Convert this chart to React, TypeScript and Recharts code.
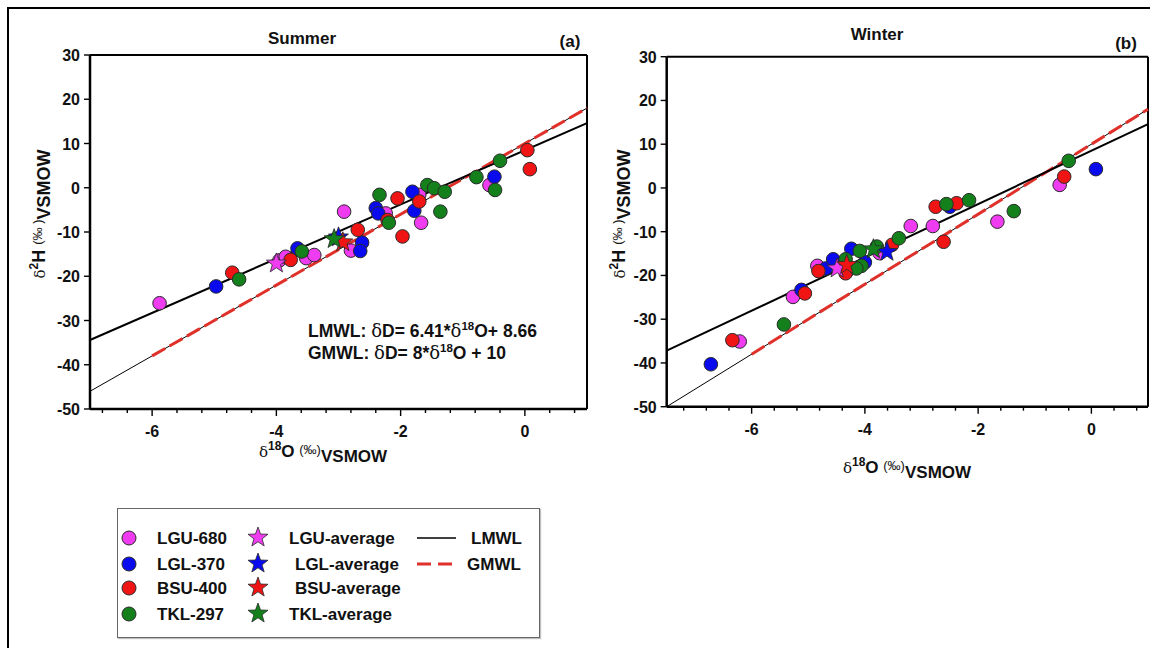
import React from "react";
import { ScatterChart, Scatter, XAxis, YAxis, ReferenceLine } from "recharts";

type Pt = { x: number; y: number };

// ---- Summer (a) ----
const summerLGU: Pt[] = [
  { x: -5.88, y: -26.1 }, { x: -3.95, y: -16.4 }, { x: -3.85, y: -15.6 }, { x: -3.52, y: -15.9 },
  { x: -3.39, y: -15.2 }, { x: -2.91, y: -5.4 }, { x: -2.8, y: -14.2 }, { x: -2.24, y: -5.8 },
  { x: -1.7, y: -1.6 }, { x: -1.67, y: -7.9 }, { x: -0.57, y: 0.6 }
];
const summerLGL: Pt[] = [
  { x: -4.97, y: -22.3 }, { x: -3.66, y: -13.7 }, { x: -2.62, y: -12.4 }, { x: -2.65, y: -14.3 },
  { x: -2.4, y: -4.6 }, { x: -2.36, y: -5.8 }, { x: -1.81, y: -0.9 }, { x: -1.78, y: -5.2 },
  { x: -0.49, y: 2.5 }
];
const summerBSU: Pt[] = [
  { x: -4.71, y: -19.2 }, { x: -3.77, y: -16.3 }, { x: -2.69, y: -9.5 }, { x: -2.21, y: -7.3 },
  { x: -2.05, y: -2.4 }, { x: -1.97, y: -11.0 }, { x: -1.7, y: -3.1 }, { x: 0.04, y: 8.5 },
  { x: 0.08, y: 4.2 }
];
const summerTKL: Pt[] = [
  { x: -4.6, y: -20.7 }, { x: -3.59, y: -14.4 }, { x: -2.34, y: -1.6 }, { x: -2.19, y: -7.9 },
  { x: -1.57, y: 0.6 }, { x: -1.46, y: -0.1 }, { x: -1.29, y: -0.9 }, { x: -1.36, y: -5.4 },
  { x: -0.78, y: 2.4 }, { x: -0.48, y: -0.5 }, { x: -0.4, y: 6.1 }
];
const summerAvgLGU: Pt[] = [{ x: -4.0, y: -17.1 }];
const summerAvgLGL: Pt[] = [{ x: -3.0, y: -11.2 }];
const summerAvgBSU: Pt[] = [{ x: -2.93, y: -12.3 }];
const summerAvgTKL: Pt[] = [{ x: -3.07, y: -11.6 }];
const summerLMWL: Pt[] = [{ x: -7, y: -34.4 }, { x: 1, y: 14.6 }];
const summerGMWL: Pt[] = [{ x: -7, y: -46 }, { x: 1, y: 18 }];
const summerGMWLDash: Pt[] = [{ x: -6, y: -38 }, { x: 1, y: 18 }];

// ---- Winter (b) ----
const winterLGU: Pt[] = [
  { x: -6.21, y: -35.1 }, { x: -5.27, y: -24.9 }, { x: -4.84, y: -17.8 }, { x: -4.4, y: -17.4 },
  { x: -3.74, y: -14.9 }, { x: -3.19, y: -8.7 }, { x: -2.8, y: -8.7 }, { x: -1.66, y: -7.7 },
  { x: -0.56, y: 0.7 }
];
const winterLGL: Pt[] = [
  { x: -6.72, y: -40.3 }, { x: -5.12, y: -23.3 }, { x: -4.69, y: -18.4 }, { x: -4.56, y: -16.3 },
  { x: -4.24, y: -13.9 }, { x: -4.0, y: -17.0 }, { x: -2.5, y: -4.3 }, { x: 0.08, y: 4.3 }
];
const winterBSU: Pt[] = [
  { x: -6.34, y: -34.8 }, { x: -5.06, y: -24.1 }, { x: -4.82, y: -19.0 }, { x: -4.3, y: -18.8 },
  { x: -4.34, y: -19.5 }, { x: -3.52, y: -13.0 }, { x: -2.75, y: -4.3 }, { x: -2.61, y: -12.3 },
  { x: -2.38, y: -3.5 }, { x: -0.48, y: 2.6 }
];
const winterTKL: Pt[] = [
  { x: -5.43, y: -31.2 }, { x: -4.34, y: -16.3 }, { x: -4.09, y: -14.4 }, { x: -4.06, y: -17.8 },
  { x: -4.15, y: -18.4 }, { x: -3.79, y: -13.4 }, { x: -3.4, y: -11.5 }, { x: -2.56, y: -3.7 },
  { x: -2.16, y: -2.8 }, { x: -1.37, y: -5.3 }, { x: -0.4, y: 6.2 }
];
const winterAvgLGU: Pt[] = [{ x: -4.49, y: -18.4 }];
const winterAvgLGL: Pt[] = [{ x: -3.61, y: -14.6 }];
const winterAvgBSU: Pt[] = [{ x: -4.32, y: -17.6 }];
const winterAvgTKL: Pt[] = [{ x: -3.85, y: -14.0 }];
const winterLMWL: Pt[] = [{ x: -7.5, y: -37.2 }, { x: 1, y: 14.6 }];
const winterGMWL: Pt[] = [{ x: -7.5, y: -50 }, { x: 1, y: 18 }];
const winterGMWLDash: Pt[] = [{ x: -6, y: -38 }, { x: 1, y: 18 }];

// ---- axes ----
const yTicks = [-50, -40, -30, -20, -10, 0, 10, 20, 30];
const summerXTicks = [
  -6.8, -6.4, -6, -5.6, -5.2, -4.8, -4.4, -4, -3.6, -3.2, -2.8, -2.4, -2, -1.6, -1.2, -0.8, -0.4, 0, 0.4, 0.8
];
const winterXTicks = [
  -7.2, -6.8, -6.4, -6, -5.6, -5.2, -4.8, -4.4, -4, -3.6, -3.2, -2.8, -2.4, -2, -1.6, -1.2, -0.8, -0.4, 0, 0.4, 0.8
];

const FONT = "'Liberation Sans', Arial, sans-serif";
const SERIF = "'DejaVu Serif', 'Liberation Serif', serif";
const C_LGU = "#f03cf0";
const C_LGL = "#0a0aee";
const C_BSU = "#f01414";
const C_TKL = "#13801c";
const C_GMWL = "#e0302a";

const starPoints = (cx: number, cy: number, R: number, r: number) => {
  const pts: string[] = [];
  for (let i = 0; i < 10; i++) {
    const a = -Math.PI / 2 + (i * Math.PI) / 5;
    const rad = i % 2 === 0 ? R : r;
    pts.push(`${cx + rad * Math.cos(a)},${cy + rad * Math.sin(a)}`);
  }
  return pts.join(" ");
};

const dot = (color: string) => (p: any) => (
  <circle cx={p.cx} cy={p.cy} r={6.8} fill={color} stroke="#2a2a2a" strokeWidth={1} />
);
const star = (color: string) => (p: any) => (
  <polygon points={starPoints(p.cx, p.cy, 10.5, 4.3)} fill={color} stroke="#2a2a2a" strokeWidth={0.8} />
);
const blank = () => <g />;

const XTick = (p: any) => {
  const v = p.payload.value;
  const major = Math.abs(v % 2) < 1e-6;
  return (
    <g>
      <line x1={p.x} x2={p.x} y1={p.y} y2={p.y + (major ? 7 : 4)} stroke="#000" strokeWidth={1.4} />
      {major && (
        <text x={p.x} y={p.y + 28} textAnchor="middle" fontFamily={FONT} fontWeight={700} fontSize={16} fill="#111">
          {v}
        </text>
      )}
    </g>
  );
};

const YTick = (p: any) => (
  <g>
    <line x1={p.x - 6} x2={p.x} y1={p.y} y2={p.y} stroke="#000" strokeWidth={1.4} />
    <text x={p.x - 10} y={p.y + 6} textAnchor="end" fontFamily={FONT} fontWeight={700} fontSize={16} fill="#111">
      {p.payload.value}
    </text>
  </g>
);

type PanelProps = {
  left: number;
  width: number;
  margin: { top: number; right: number; bottom: number; left: number };
  xDomain: [number, number];
  xTicks: number[];
  lgu: Pt[]; lgl: Pt[]; bsu: Pt[]; tkl: Pt[];
  aLgu: Pt[]; aLgl: Pt[]; aBsu: Pt[]; aTkl: Pt[];
  lmwl: Pt[]; gmwl: Pt[]; gmwlDash: Pt[];
};

function Panel(props: PanelProps) {
  const { xDomain } = props;
  return (
    <div style={{ position: "absolute", left: props.left, top: 0 }}>
      <ScatterChart width={props.width} height={440} margin={props.margin}>
        <XAxis
          type="number"
          dataKey="x"
          domain={xDomain}
          ticks={props.xTicks}
          interval={0}
          height={30}
          tickSize={0}
          tickMargin={0}
          tickLine={false}
          tick={XTick}
          axisLine={{ stroke: "#000", strokeWidth: 2.5 }}
        />
        <YAxis
          type="number"
          dataKey="y"
          domain={[-50, 30]}
          ticks={yTicks}
          interval={0}
          width={60}
          tickSize={0}
          tickMargin={0}
          tickLine={false}
          tick={YTick}
          axisLine={{ stroke: "#000", strokeWidth: 2.5 }}
        />
        <ReferenceLine y={30} stroke="#000" strokeWidth={2} />
        <ReferenceLine x={xDomain[1]} stroke="#000" strokeWidth={2} />
        <Scatter data={props.gmwl} shape={blank} line={{ stroke: "#000", strokeWidth: 1 }} isAnimationActive={false} />
        <Scatter
          data={props.gmwlDash}
          shape={blank}
          line={{ stroke: C_GMWL, strokeWidth: 3, strokeDasharray: "15 5" }}
          isAnimationActive={false}
        />
        <Scatter data={props.lmwl} shape={blank} line={{ stroke: "#000", strokeWidth: 2 }} isAnimationActive={false} />
        <Scatter data={props.lgu} shape={dot(C_LGU)} isAnimationActive={false} />
        <Scatter data={props.lgl} shape={dot(C_LGL)} isAnimationActive={false} />
        <Scatter data={props.bsu} shape={dot(C_BSU)} isAnimationActive={false} />
        <Scatter data={props.tkl} shape={dot(C_TKL)} isAnimationActive={false} />
        <Scatter data={props.aLgu} shape={star(C_LGU)} isAnimationActive={false} />
        <Scatter data={props.aLgl} shape={star(C_LGL)} isAnimationActive={false} />
        <Scatter data={props.aBsu} shape={star(C_BSU)} isAnimationActive={false} />
        <Scatter data={props.aTkl} shape={star(C_TKL)} isAnimationActive={false} />
      </ScatterChart>
    </div>
  );
}

const abs = (x: number, y: number, extra?: React.CSSProperties): React.CSSProperties => ({
  position: "absolute",
  left: x,
  top: y,
  whiteSpace: "nowrap",
  lineHeight: 1,
  fontFamily: FONT,
  fontWeight: 700,
  color: "#111",
  ...extra
});

const delta = (size: number) => (
  <span style={{ fontFamily: SERIF, fontWeight: 400, fontSize: size }}>δ</span>
);

function YLabel({ x, y }: { x: number; y: number }) {
  return (
    <div style={abs(x, y, { transform: "translate(-50%,-50%) rotate(-90deg)", fontSize: 18 })}>
      {delta(15)}
      <span style={{ fontSize: 12, position: "relative", top: -7 }}>2</span>
      <span>H</span>{" "}
      <span style={{ fontWeight: 400, fontSize: 13, position: "relative", top: -3 }}>(‰ )</span>
      <span style={{ position: "relative", top: 5 }}>VSMOW</span>
    </div>
  );
}

function XLabel({ x, y }: { x: number; y: number }) {
  return (
    <div style={abs(x, y, { transform: "translate(-50%,-50%)", fontSize: 17 })}>
      {delta(15)}
      <span style={{ fontSize: 12, position: "relative", top: -7 }}>18</span>
      <span>O</span>{" "}
      <span style={{ fontWeight: 400, fontSize: 13, position: "relative", top: -3 }}>(‰)</span>
      <span style={{ position: "relative", top: 5 }}>VSMOW</span>
    </div>
  );
}

function LegendIcon({ kind, color }: { kind: "dot" | "star"; color: string }) {
  return (
    <svg width={22} height={22} style={{ display: "block" }}>
      {kind === "dot" ? (
        <circle cx={11} cy={11} r={7} fill={color} stroke="#2a2a2a" strokeWidth={1} />
      ) : (
        <polygon points={starPoints(11, 11.5, 10.5, 4.3)} fill={color} stroke="#2a2a2a" strokeWidth={0.8} />
      )}
    </svg>
  );
}

const legendSites = [
  { name: "LGU-680", avg: "LGU-average", color: C_LGU, avgX: 171 },
  { name: "LGL-370", avg: "LGL-average", color: C_LGL, avgX: 177 },
  { name: "BSU-400", avg: "BSU-average", color: C_BSU, avgX: 177 },
  { name: "TKL-297", avg: "TKL-average", color: C_TKL, avgX: 171 }
];
const legendRows = [29, 55, 79, 105];

function LegendBox() {
  return (
    <div
      style={{
        position: "absolute",
        left: 117,
        top: 508,
        width: 421,
        height: 128,
        border: "1px solid #666",
        boxShadow: "1px 1px 1px rgba(0,0,0,0.25)",
        background: "#fff"
      }}
    >
      {legendSites.map((s, i) => (
        <React.Fragment key={s.name}>
          <div style={abs(0, legendRows[i] - 11)}>
            <LegendIcon kind="dot" color={s.color} />
          </div>
          <div style={abs(39, legendRows[i] - 8.5, { fontSize: 17 })}>{s.name}</div>
          <div style={abs(129, legendRows[i] - 12)}>
            <LegendIcon kind="star" color={s.color} />
          </div>
          <div style={abs(s.avgX, legendRows[i] - 8.5, { fontSize: 17 })}>{s.avg}</div>
        </React.Fragment>
      ))}
      <svg width={40} height={10} style={{ position: "absolute", left: 299, top: legendRows[0] - 5 }}>
        <line x1={0} x2={39} y1={5} y2={5} stroke="#000" strokeWidth={1.3} />
      </svg>
      <div style={abs(353, legendRows[0] - 8.5, { fontSize: 17 })}>LMWL</div>
      <svg width={40} height={10} style={{ position: "absolute", left: 299, top: legendRows[1] - 5 }}>
        <line x1={0} x2={36} y1={5} y2={5} stroke={C_GMWL} strokeWidth={3} strokeDasharray="14 7" />
      </svg>
      <div style={abs(349, legendRows[1] - 8.5, { fontSize: 17 })}>GMWL</div>
    </div>
  );
}

export default function App() {
  return (
    <div
      style={{
        position: "absolute",
        left: 0,
        top: 0,
        width: 1150,
        height: 648,
        overflow: "hidden",
        background: "#fff"
      }}
    >
      <div
        style={{
          position: "absolute",
          left: 7,
          top: 7,
          width: 1170,
          height: 700,
          border: "2px solid #000"
        }}
      />
      <Panel
        left={0}
        width={600}
        margin={{ top: 55, right: 13, bottom: 1, left: 30 }}
        xDomain={[-7, 1]}
        xTicks={summerXTicks}
        lgu={summerLGU}
        lgl={summerLGL}
        bsu={summerBSU}
        tkl={summerTKL}
        aLgu={summerAvgLGU}
        aLgl={summerAvgLGL}
        aBsu={summerAvgBSU}
        aTkl={summerAvgTKL}
        lmwl={summerLMWL}
        gmwl={summerGMWL}
        gmwlDash={summerGMWLDash}
      />
      <Panel
        left={580}
        width={570}
        margin={{ top: 56.7, right: 2, bottom: 3.3, left: 26.7 }}
        xDomain={[-7.5, 1]}
        xTicks={winterXTicks}
        lgu={winterLGU}
        lgl={winterLGL}
        bsu={winterBSU}
        tkl={winterTKL}
        aLgu={winterAvgLGU}
        aLgl={winterAvgLGL}
        aBsu={winterAvgBSU}
        aTkl={winterAvgTKL}
        lmwl={winterLMWL}
        gmwl={winterGMWL}
        gmwlDash={winterGMWLDash}
      />

      <div style={abs(302, 38, { transform: "translate(-50%,-50%)", fontSize: 17 })}>Summer</div>
      <div style={abs(570, 41, { transform: "translate(-50%,-50%)", fontSize: 17 })}>(a)</div>
      <div style={abs(877, 34, { transform: "translate(-50%,-50%)", fontSize: 17 })}>Winter</div>
      <div style={abs(1126, 43, { transform: "translate(-50%,-50%)", fontSize: 17 })}>(b)</div>

      <div style={abs(308, 322, { fontSize: 17.5 })}>
        LMWL: {delta(18)}D= 6.41*{delta(18)}
        <span style={{ fontSize: 11.5, position: "relative", top: -7 }}>18</span>O+ 8.66
      </div>
      <div style={abs(308, 344, { fontSize: 17.5 })}>
        GMWL: {delta(18)}D= 8*{delta(18)}
        <span style={{ fontSize: 11.5, position: "relative", top: -7 }}>18</span>O + 10
      </div>

      <YLabel x={39} y={214} />
      <YLabel x={619} y={214} />
      <XLabel x={323} y={451} />
      <XLabel x={907} y={467} />

      <LegendBox />
    </div>
  );
}
